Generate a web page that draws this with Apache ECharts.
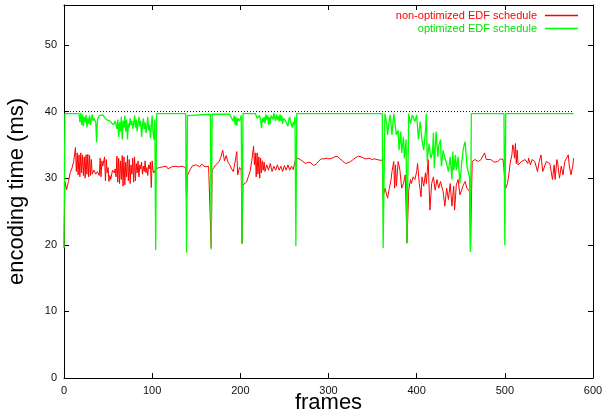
<!DOCTYPE html>
<html>
<head>
<meta charset="utf-8">
<script src="https://cdn.jsdelivr.net/npm/echarts@6/dist/echarts.min.js"></script>
<style>
  html, body { margin: 0; padding: 0; background: #fff; }
  #chart { width: 602px; height: 416px; }
</style>
</head>
<body>
<div id="chart"></div>
<script>
// [frame, encoding time in ms]
var nonOptimized = [
  [0,19.6],[1,29.5],[3,28.3],[5,29.5],[7,30.8],[9,31.5],[11,32.5],[13,34.6],[14,31.0],[15,33.8],[16,30.5],[17,33.5],[18,30.2],[19,33.8],[20,30.8],[21,33.5],[22,30.4],[23,33.2],[24,30.0],[25,33.5],[26,30.6],[27,33.6],[28,30.2],[29,33.4],[30,30.4],[31,32.8],[32,30.6],[34,31.2],[36,30.6],[38,31.0],[40,30.4],[41,33.0],[42,30.2],[43,32.6],[44,31.8],[46,33.2],[47,29.6],[48,32.8],[49,30.8],[50,31.6],[51,29.5],[52,30.4],[53,29.8],[55,31.2],[57,30.8],[58,31.4],[59,30.2],
  [60,33.3],[61,29.4],[62,33.0],[63,29.2],[64,32.6],[65,29.8],[66,33.4],[67,28.8],[68,33.2],[69,29.0],[70,32.4],[71,30.2],[72,33.4],[73,29.6],[74,32.8],[75,29.2],[76,32.0],[77,30.6],[78,33.0],[79,29.4],[80,33.2],[81,29.6],[82,32.2],[83,30.8],[84,32.6],[85,30.2],[86,32.0],[87,31.4],[88,32.4],[89,30.6],[90,31.8],[91,31.0],[92,32.6],[93,30.8],[94,31.6],[95,30.4],[96,32.0],[97,31.4],[98,32.4],[99,28.6],[100,32.6],[101,31.2],[102,30.8],
  [104,31.4],[106,31.2],[108,31.6],[110,31.4],[112,31.7],[114,31.5],[116,31.8],[118,31.4],[120,31.6],[122,31.7],[124,31.5],[126,31.8],[128,31.6],[130,31.7],[132,31.5],[134,31.8],[136,31.6],[138,31.6],[139,26.5],[140,30.4],[142,31.0],[144,31.5],[146,31.9],[148,31.6],[150,32.0],[152,31.8],[154,31.7],[156,32.1],[158,31.8],[160,31.7],[162,31.9],[164,31.8],[166,31.6],[167,19.6],
  [168,31.2],[170,31.6],[172,32.0],[174,31.8],[176,32.5],[178,33.2],[180,34.2],[182,32.6],[184,33.4],[186,32.4],[188,32.0],[190,31.4],[192,31.0],[194,32.4],[196,34.0],[197,30.5],[199,31.6],[201,31.2],[202,20.2],
  [203,29.0],[205,29.1],[207,29.4],[209,30.2],[211,31.0],[213,32.6],[215,34.8],[216,32.0],[217,33.8],[218,30.2],[219,33.8],[220,30.6],[221,33.2],[222,30.0],[223,33.0],[224,30.8],[225,32.6],[226,31.2],[227,32.4],[228,31.0],[230,32.0],[232,31.2],[234,32.2],[236,31.0],[238,31.8],[240,31.2],[242,32.0],[244,31.2],[246,31.8],[248,31.0],[250,31.9],[252,31.2],[254,32.0],[256,31.2],[258,31.8],[260,31.3],[262,31.6],
  [263,33.1],[265,33.2],[268,32.8],[271,32.5],[274,32.2],[277,32.4],[280,32.3],[283,31.9],[286,32.1],[289,32.6],[292,32.9],[295,32.9],[298,33.0],[301,32.9],[304,33.0],[307,33.2],[310,33.3],[313,32.9],[316,32.6],[319,32.2],[322,32.3],[325,32.5],[328,32.8],[331,33.1],[334,33.3],[337,33.2],[340,33.0],[343,32.9],[346,33.0],[349,32.8],[352,32.9],[355,32.8],[358,32.7],[361,32.7],
  [362,27.2],[364,28.5],[366,28.3],[367,27.0],[369,28.5],[371,29.8],[372,31.0],[374,32.5],[375,28.5],[376,32.0],[377,28.8],[379,32.5],[381,31.2],[383,28.5],[385,29.2],[387,30.5],[389,20.3],[391,28.2],[393,29.8],[394,29.2],[396,30.2],[398,29.8],[400,31.0],[401,32.2],[403,29.2],[405,27.2],[406,30.2],[408,28.8],[410,30.8],[411,29.2],[413,32.8],[415,25.2],[417,29.2],[419,30.2],[421,28.2],[423,29.8],[425,28.5],[427,29.5],[428,29.2],[430,28.0],[432,25.8],[434,28.5],[436,26.8],[438,29.2],[440,25.8],[442,28.8],[443,25.2],[445,29.0],[447,29.8],[449,27.5],[451,28.2],[453,29.0],[455,29.5],[457,28.5],[458,28.2],[460,28.0],[461,19.0],
  [463,32.5],[466,32.8],[470,32.5],[473,32.8],[475,33.0],[477,33.8],[479,32.8],[481,32.5],[484,32.8],[488,32.4],[492,32.5],[495,32.9],[498,32.8],[500,32.6],[501,28.5],[503,29.2],[505,31.0],[506,32.2],[508,33.5],[509,35.0],[510,34.5],[511,33.0],[512,35.2],[513,32.2],[514,34.2],[515,32.0],[517,32.0],[519,32.5],[521,32.2],[523,32.8],[526,32.2],[527,33.0],[529,32.0],[531,32.8],[534,32.5],[535,32.2],[537,31.0],[539,32.5],[541,33.5],[543,31.0],[545,30.8],[547,32.5],[549,32.8],[551,32.2],[553,32.5],[554,29.8],[556,32.0],[557,29.8],[559,32.8],[560,32.2],[562,30.0],[564,31.8],[566,30.5],[568,32.5],[570,33.0],[572,33.5],[573,32.0],[574,31.8],[575,30.5],[577,31.8],[578,33.0]
];

var optimized = [
  [0,19.5],[1,39.7],[17,39.7],[18,38.4],[19,39.8],[20,38.0],[21,39.6],[22,37.8],[23,39.2],[24,38.4],[25,39.5],[26,37.6],[27,39.0],[28,38.2],[29,39.4],[30,38.0],[31,38.8],[32,39.6],[33,38.6],[34,39.0],[36,38.4],[37,35.4],[38,38.8],[40,39.4],[42,39.2],[44,39.5],[46,39.2],[48,38.8],[50,39.0],[52,38.6],[54,38.4],[56,38.0],[58,38.6],
  [60,37.4],[61,38.8],[62,36.2],[63,38.4],[64,37.0],[65,39.2],[66,35.8],[67,38.6],[68,37.6],[69,39.4],[70,37.0],[71,38.8],[72,35.8],[73,38.2],[74,37.6],[75,39.0],[76,38.0],[77,38.6],[78,37.4],[79,38.2],[80,39.4],[81,37.6],[82,38.8],[83,37.0],[84,38.2],[85,39.2],[86,37.8],[87,38.6],[88,36.2],[89,37.8],[90,39.0],[91,37.4],[92,38.4],[93,36.8],[94,37.8],[95,39.2],[96,37.2],[97,38.0],[98,36.0],[99,37.8],[100,39.4],[101,36.8],[102,35.8],[103,38.8],[104,19.2],
  [105,39.7],[138,39.7],[139,18.8],[140,39.4],[142,39.6],[166,39.6],[167,19.3],[168,39.6],[188,39.6],[190,39.0],[192,38.6],[193,39.4],[194,38.0],[195,39.2],[196,37.9],[197,39.0],[199,38.6],[201,39.4],[202,20.2],
  [203,39.7],[217,39.7],[218,39.4],[219,39.0],[220,39.2],[221,38.8],[222,39.4],[223,38.6],[224,37.5],[225,39.0],[226,38.4],[227,39.2],[228,38.2],[229,39.6],[230,38.8],[231,39.4],[232,38.0],[233,39.2],[234,38.2],[235,39.4],[236,39.5],[237,38.8],[238,39.8],[239,39.0],[240,38.6],[241,39.6],[242,38.8],[243,39.3],[244,38.5],[245,39.6],[246,38.6],[247,39.4],[248,38.2],[249,39.0],[250,38.8],[252,38.4],[254,37.8],[255,38.8],[256,39.2],[257,38.5],[258,38.8],[259,37.6],[260,38.4],[261,38.0],[262,39.2],[263,19.8],
  [264,39.7],[361,39.7],[362,19.5],[364,39.7],[366,38.2],[367,36.5],[369,38.8],[370,39.5],[372,36.5],[374,39.7],[376,39.5],[377,36.5],[379,37.2],[380,34.2],[382,37.0],[383,33.8],[385,36.2],[386,33.0],[388,35.8],[389,20.2],
  [391,39.7],[393,38.2],[395,39.5],[396,39.7],[398,38.5],[400,39.5],[402,35.8],[404,38.5],[406,35.8],[408,34.2],[410,37.2],[411,39.7],[412,32.5],[414,35.2],[416,33.0],[418,33.8],[419,36.8],[420,31.5],[422,37.0],[424,33.2],[425,34.8],[427,35.8],[428,31.8],[430,34.2],[432,33.0],[434,32.2],[436,31.0],[438,33.2],[440,29.8],[441,34.0],[442,31.2],[444,33.5],[445,31.2],[447,33.2],[449,29.2],[451,32.2],[453,34.5],[455,35.5],[457,31.8],[458,31.2],[460,30.2],[461,19.0],
  [462,39.7],[499,39.7],[500,19.9],[501,39.7],[578,39.7]
];

var deadline = [[0,40],[578,40]];

var xTicks = { min: 0, max: 600, interval: 100 };
var yTicks = { min: 0, max: 56, interval: 10 };

var chart = echarts.init(document.getElementById('chart'));
var font = 'Liberation Sans, Arial, Helvetica, sans-serif';
var red = '#ff0000';
var green = '#00ff00';

var option = {
  animation: false,
  textStyle: { fontFamily: font },
  grid: { left: 64, right: 9, top: 5, bottom: 38, show: false, containLabel: false, outerBoundsMode: 'none' },
  legend: {
    orient: 'vertical',
    right: 19,
    top: 5,
    align: 'right',
    itemWidth: 33,
    itemHeight: 1.5,
    itemGap: 2,
    icon: 'rect',
    textStyle: { fontSize: 11, fontFamily: font, padding: [0, 3, 0, 0] },
    data: [
      { name: 'non-optimized EDF schedule', itemStyle: { color: red, borderWidth: 0 }, textStyle: { color: red } },
      { name: 'optimized EDF schedule', itemStyle: { color: green, borderWidth: 0 }, textStyle: { color: '#00e000' } }
    ]
  },
  xAxis: [
    {
      type: 'value', min: xTicks.min, max: xTicks.max, interval: xTicks.interval,
      position: 'bottom',
      name: 'frames', nameLocation: 'middle', nameGap: 14, nameMoveOverlap: false,
      nameTextStyle: { fontSize: 22, color: '#000', fontFamily: font },
      axisLine: { show: true, onZero: false, lineStyle: { color: '#000', width: 1 } },
      axisTick: { show: true, inside: true, length: 5, lineStyle: { color: '#000' } },
      axisLabel: { fontSize: 11, color: '#111', margin: 7 },
      splitLine: { show: false }
    },
    {
      type: 'value', min: xTicks.min, max: xTicks.max, interval: xTicks.interval,
      position: 'top',
      axisLine: { show: true, onZero: false, lineStyle: { color: '#000', width: 1 } },
      axisTick: { show: true, inside: true, length: 5, lineStyle: { color: '#000' } },
      axisLabel: { show: false },
      splitLine: { show: false }
    }
  ],
  yAxis: [
    {
      type: 'value', min: yTicks.min, max: yTicks.max, interval: yTicks.interval,
      position: 'left',
      name: 'encoding time (ms)', nameLocation: 'middle', nameGap: 36, nameMoveOverlap: false,
      nameTextStyle: { fontSize: 22, color: '#000', fontFamily: font },
      axisLine: { show: true, onZero: false, lineStyle: { color: '#000', width: 1 } },
      axisTick: { show: true, inside: true, length: 5, lineStyle: { color: '#000' } },
      axisLabel: { fontSize: 11, color: '#111', margin: 7, showMaxLabel: false },
      splitLine: { show: false }
    },
    {
      type: 'value', min: yTicks.min, max: yTicks.max, interval: yTicks.interval,
      position: 'right',
      axisLine: { show: true, onZero: false, lineStyle: { color: '#000', width: 1 } },
      axisTick: { show: true, inside: true, length: 5, lineStyle: { color: '#000' } },
      axisLabel: { show: false },
      splitLine: { show: false }
    }
  ],
  series: [
    {
      name: 'deadline', type: 'line', data: deadline, showSymbol: false, silent: true,
      lineStyle: { color: '#000', width: 1, type: [1, 2] }
    },
    {
      name: 'non-optimized EDF schedule', type: 'line', data: nonOptimized,
      showSymbol: false, itemStyle: { color: red }, lineStyle: { color: red, width: 1 }
    },
    {
      name: 'optimized EDF schedule', type: 'line', data: optimized,
      showSymbol: false, itemStyle: { color: green }, lineStyle: { color: green, width: 1.3 }
    }
  ]
};

chart.setOption(option);
</script>
</body>
</html>
